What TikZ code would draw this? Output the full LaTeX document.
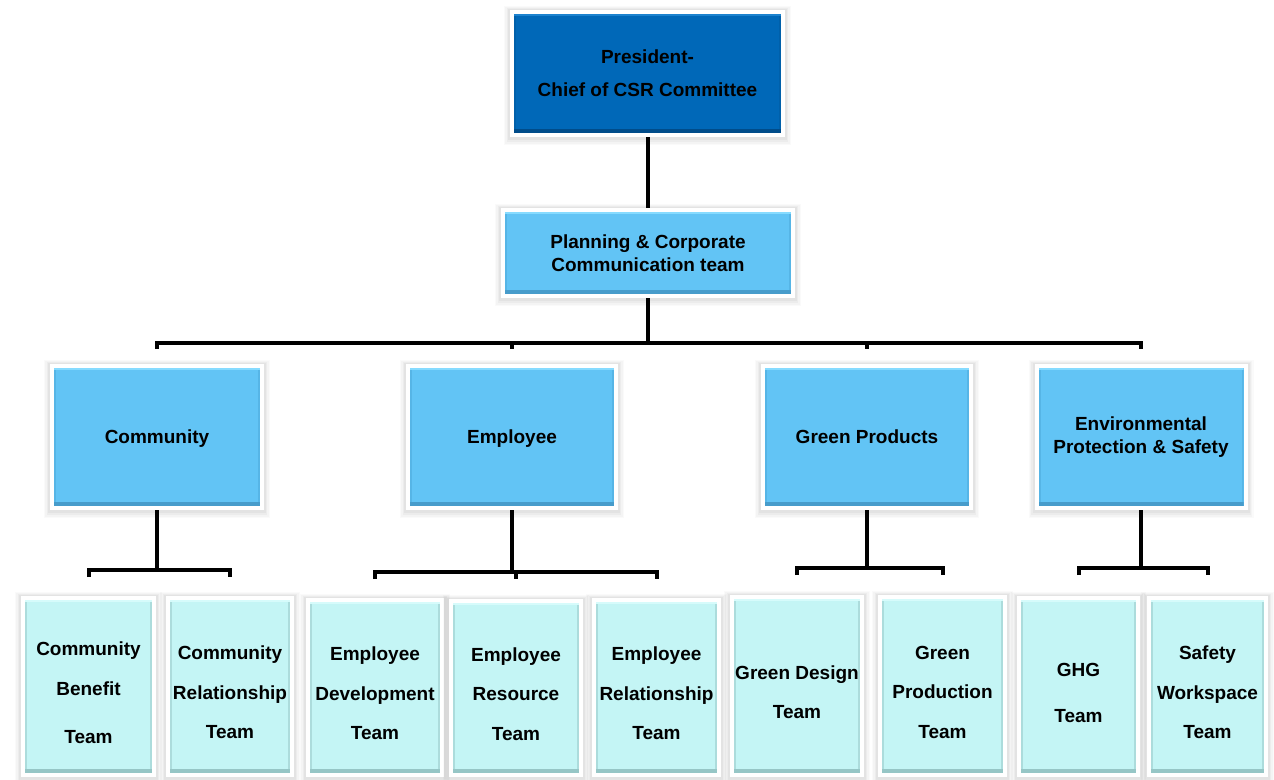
\documentclass[tikz,border=0pt]{standalone}
\usepackage{fontspec}
\setmainfont{Liberation Sans}
\usetikzlibrary{calc}
\definecolor{dblue}{HTML}{0068B8}
\definecolor{dbluetop}{HTML}{1C82CE}
\definecolor{dbluebot}{HTML}{004C8A}
\definecolor{dblueside}{HTML}{0060AA}
\definecolor{lblue}{HTML}{62C4F5}
\definecolor{lbluetop}{HTML}{86DBFF}
\definecolor{lbluebot}{HTML}{479CCB}
\definecolor{lblueside}{HTML}{56B5E6}
\definecolor{pcyan}{HTML}{C4F5F5}
\definecolor{pcyantop}{HTML}{D6FBFB}
\definecolor{pcyanbot}{HTML}{96C6C6}
\definecolor{pcyanside}{HTML}{ACDCDC}
\pgfdeclarelayer{bg}
\pgfsetlayers{bg,main}
\newcommand\dropline{\rule{0pt}{19.5pt}}
\tikzset{
  sz/.style 2 args={minimum width=#1*0.75pt, minimum height=#2*0.75pt},
  bevel/.style n args={4}{fill=#1, path picture={
     \fill[#4] (path picture bounding box.north west) rectangle ([xshift=1.5pt]path picture bounding box.south west);
     \fill[#4] (path picture bounding box.north east) rectangle ([xshift=-1.5pt]path picture bounding box.south east);
     \fill[#2] (path picture bounding box.north west) rectangle ([yshift=-1.5pt]path picture bounding box.north east);
     \fill[#3] (path picture bounding box.south west) rectangle ([yshift=3pt]path picture bounding box.south east);
  }},
  card/.style={rectangle, inner sep=0pt, align=center, text=black,
     preaction={draw=black, opacity=0.02, line width=15pt, transform canvas={yshift=-1.5pt}},
     preaction={draw=black, opacity=0.025, line width=13pt, transform canvas={yshift=-1.5pt}},
     preaction={draw=black, opacity=0.03, line width=11pt, transform canvas={yshift=-1pt}},
     preaction={draw=black, opacity=0.035, line width=9pt, transform canvas={yshift=-1pt}},
     preaction={draw=white, line width=6pt}},
  topbox/.style={card, bevel={dblue}{dbluetop}{dbluebot}{dblueside},
     font=\bfseries\fontsize{14.25pt}{24.75pt}\selectfont},
  midbox/.style={card, bevel={lblue}{lbluetop}{lbluebot}{lblueside},
     font=\bfseries\fontsize{14.25pt}{17.25pt}\selectfont},
  teambox/.style={card, bevel={pcyan}{pcyantop}{pcyanbot}{pcyanside},
     font=\bfseries\fontsize{14.25pt}{29.6pt}\selectfont},
  conn/.style={line width=3pt, black, line join=miter}
}
\begin{document}
\begin{tikzpicture}[x=0.75pt, y=-0.75pt]
\useasboundingbox (0,0) rectangle (1274,779);
\begin{pgfonlayer}{bg}
\fill[white] (0,0) rectangle (1274,779);
\end{pgfonlayer}

% top levels
\node[topbox, sz={267}{119}] (pres) at (647.5,73.5) {President-\\Chief of CSR Committee};
\node[midbox, sz={286}{82}] (plan) at (648,253) {Planning \& Corporate\\Communication team};

% middle level
\node[midbox, sz={206}{138}, text depth=0pt] (comm) at (157,437) {Community};
\node[midbox, sz={204}{138}, text depth=0pt] (emp) at (512,437) {Employee};
\node[midbox, sz={204}{138}, text depth=0pt] (grn) at (867,437) {Green Products};
\node[midbox, sz={205}{138}] (env) at (1141,437) {Environmental\\Protection \& Safety};

% teams
\node[teambox, sz={127}{173}] (cb) at (88.5,686.5) {\dropline Community\\Benefit\\[6.5pt]Team};
\node[teambox, sz={120}{173}] (cr) at (230,686.5) {\dropline Community\\Relationship\\Team};
\node[teambox, sz={130}{171}] (ed) at (375,687.5) {\dropline Employee\\Development\\Team};
\node[teambox, sz={126}{170}] (er) at (516,688) {\dropline Employee\\Resource\\Team};
\node[teambox, sz={121}{171}] (erl) at (656.5,687.5) {\dropline Employee\\Relationship\\Team};
\node[teambox, sz={126}{174}] (gd) at (797,686) {\dropline Green Design\\Team};
\node[teambox, sz={121}{174}] (gp) at (942.5,686) {\dropline Green\\Production\\Team};
\node[teambox, sz={115}{173}] (ghg) at (1078.5,686.5) {\dropline GHG\\[5.25pt]Team};
\node[teambox, sz={113}{173}] (sw) at (1207.5,686.5) {\dropline Safety\\Workspace\\Team};

% connectors
\begin{pgfonlayer}{bg}
\coordinate (busA) at (649,343);
\coordinate (tickA) at (649,349);
\draw[conn] (plan.north) -- (plan.north |- pres.south);
\draw[conn] (plan.south) -- (plan.south |- busA);
\draw[conn] (comm.north |- tickA) -- (comm.north |- busA) -- (env.north |- busA) -- (env.north |- tickA);
\draw[conn] (emp.north |- busA) -- (emp.north |- tickA);
\draw[conn] (grn.north |- busA) -- (grn.north |- tickA);

\coordinate (busC) at (0,570);
\coordinate (tickC) at (0,577);
\draw[conn] (comm.south) -- (comm.south |- busC);
\draw[conn] (cb.north |- tickC) -- (cb.north |- busC) -- (cr.north |- busC) -- (cr.north |- tickC);

\coordinate (busE) at (0,572);
\coordinate (tickE) at (0,579);
\draw[conn] (emp.south) -- (emp.south |- busE);
\draw[conn] (ed.north |- tickE) -- (ed.north |- busE) -- (erl.north |- busE) -- (erl.north |- tickE);
\draw[conn] (er.north |- busE) -- (er.north |- tickE);

\coordinate (busG) at (0,568);
\coordinate (tickG) at (0,575);
\draw[conn] (grn.south) -- (grn.south |- busG);
\draw[conn] (gd.north |- tickG) -- (gd.north |- busG) -- (gp.north |- busG) -- (gp.north |- tickG);
\draw[conn] (env.south) -- (env.south |- busG);
\draw[conn] (ghg.north |- tickG) -- (ghg.north |- busG) -- (sw.north |- busG) -- (sw.north |- tickG);
\end{pgfonlayer}
\end{tikzpicture}
\end{document}
